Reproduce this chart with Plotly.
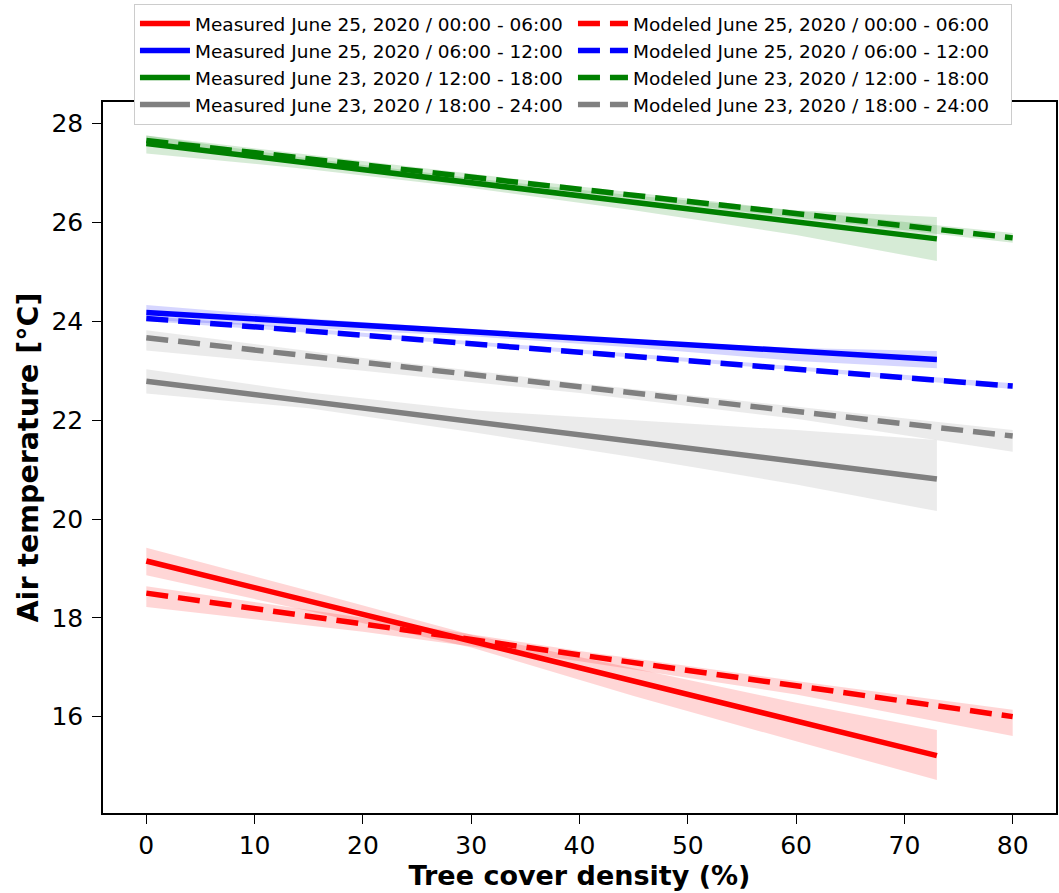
import plotly.graph_objects as go

# ---------------- data ----------------
series_names_measured = [
    "Measured June 25, 2020 / 00:00 - 06:00",
    "Measured June 25, 2020 / 06:00 - 12:00",
    "Measured June 23, 2020 / 12:00 - 18:00",
    "Measured June 23, 2020 / 18:00 - 24:00",
]
series_names_modeled = [
    "Modeled June 25, 2020 / 00:00 - 06:00",
    "Modeled June 25, 2020 / 06:00 - 12:00",
    "Modeled June 23, 2020 / 12:00 - 18:00",
    "Modeled June 23, 2020 / 18:00 - 24:00",
]
colors = ["#ff0000", "#0000ff", "#008000", "#808080"]
band_colors = ["rgba(255,0,0,0.16)", "rgba(0,0,255,0.16)", "rgba(0,128,0,0.16)", "rgba(128,128,128,0.16)"]

# Measured fits (x from 0 to 73)
meas_x = [0, 73]
meas_red = [19.15, 15.21]
meas_blue = [24.18, 23.23]
meas_green = [27.60, 25.67]
meas_gray = [22.79, 20.81]

meas_band_x = [0, 15, 30, 45, 60, 73]
meas_red_up = [19.42, 18.55, 17.66, 16.98, 16.28, 15.73]
meas_red_lo = [18.86, 18.14, 17.40, 16.42, 15.50, 14.72]
meas_blue_up = [24.33, 24.06, 23.84, 23.63, 23.46, 23.40]
meas_blue_lo = [24.03, 23.86, 23.70, 23.47, 23.20, 23.05]
meas_green_up = [27.76, 27.30, 26.90, 26.55, 26.25, 26.11]
meas_green_lo = [27.40, 27.08, 26.70, 26.25, 25.75, 25.22]
meas_gray_up = [23.03, 22.56, 22.20, 22.00, 21.80, 21.60]
meas_gray_lo = [22.54, 22.24, 21.76, 21.25, 20.70, 20.16]

# Modeled fits (x from 0 to 80)
mod_x = [0, 80]
mod_red = [18.50, 16.00]
mod_blue = [24.06, 22.69]
mod_green = [27.66, 25.69]
mod_gray = [23.67, 21.68]

mod_band_x = [0, 20, 40, 60, 80]
mod_red_up = [18.64, 18.00, 17.33, 16.72, 16.14]
mod_red_lo = [18.22, 17.72, 17.12, 16.45, 15.61]
mod_blue_up = [24.11, 23.77, 23.43, 23.09, 22.75]
mod_blue_lo = [24.01, 23.69, 23.35, 23.01, 22.63]
mod_green_up = [27.76, 27.24, 26.73, 26.24, 25.79]
mod_green_lo = [27.56, 27.10, 26.61, 26.10, 25.59]
mod_gray_up = [23.82, 23.26, 22.75, 22.27, 21.80]
mod_gray_lo = [23.41, 23.00, 22.55, 22.03, 21.36]

x_ticks = [0, 10, 20, 30, 40, 50, 60, 70, 80]
y_ticks = [16, 18, 20, 22, 24, 26, 28]

meas_lines = [meas_red, meas_blue, meas_green, meas_gray]
meas_ups = [meas_red_up, meas_blue_up, meas_green_up, meas_gray_up]
meas_los = [meas_red_lo, meas_blue_lo, meas_green_lo, meas_gray_lo]
mod_lines = [mod_red, mod_blue, mod_green, mod_gray]
mod_ups = [mod_red_up, mod_blue_up, mod_green_up, mod_gray_up]
mod_los = [mod_red_lo, mod_blue_lo, mod_green_lo, mod_gray_lo]

fig = go.Figure()

# confidence bands
for i in range(4):
    fig.add_trace(go.Scatter(x=meas_band_x + meas_band_x[::-1], y=meas_ups[i] + meas_los[i][::-1],
                             fill="toself", fillcolor=band_colors[i], line=dict(width=0),
                             mode="lines", showlegend=False, hoverinfo="skip"))
    fig.add_trace(go.Scatter(x=mod_band_x + mod_band_x[::-1], y=mod_ups[i] + mod_los[i][::-1],
                             fill="toself", fillcolor=band_colors[i], line=dict(width=0),
                             mode="lines", showlegend=False, hoverinfo="skip"))

# fitted lines (legend order row-major: measured / modeled)
for i in range(4):
    fig.add_trace(go.Scatter(x=meas_x, y=meas_lines[i], mode="lines", name=series_names_measured[i],
                             line=dict(color=colors[i], width=5.5)))
    fig.add_trace(go.Scatter(x=mod_x, y=mod_lines[i], mode="lines", name=series_names_modeled[i],
                             line=dict(color=colors[i], width=5.5, dash="22px,10px")))

axis_common = dict(showline=True, linecolor="black", linewidth=1.5, mirror=True,
                   ticks="outside", ticklen=9, tickwidth=1.3, tickcolor="black",
                   showgrid=False, zeroline=False,
                   tickfont=dict(family="DejaVu Sans", size=25, color="black"))

fig.update_layout(
    width=1059, height=893,
    margin=dict(l=103, r=3, t=102, b=80),
    paper_bgcolor="white", plot_bgcolor="white",
    font=dict(family="DejaVu Sans", color="black"),
    xaxis=dict(range=[-4, 84], tickvals=x_ticks, automargin=False, **axis_common,
               title=dict(text="Tree cover density (%)", standoff=6,
                          font=dict(family="DejaVu Sans", size=27, color="black", weight="bold"))),
    yaxis=dict(range=[14.05, 28.44], tickvals=y_ticks, automargin=False, ticklabelstandoff=4,
               **axis_common,
               title=dict(text="Air temperature [°C]", standoff=4,
                          font=dict(family="DejaVu Sans", size=28.5, color="black", weight="bold"))),
    legend=dict(orientation="h", x=0.0325, xanchor="left", y=1.138, yanchor="top",
                entrywidth=373, entrywidthmode="pixels",
                bgcolor="white", bordercolor="#cccccc", borderwidth=1,
                font=dict(family="DejaVu Sans", size=18.5, color="black"),
                tracegroupgap=0, itemwidth=50),
    showlegend=True,
)

fig.write_html("out.html")
